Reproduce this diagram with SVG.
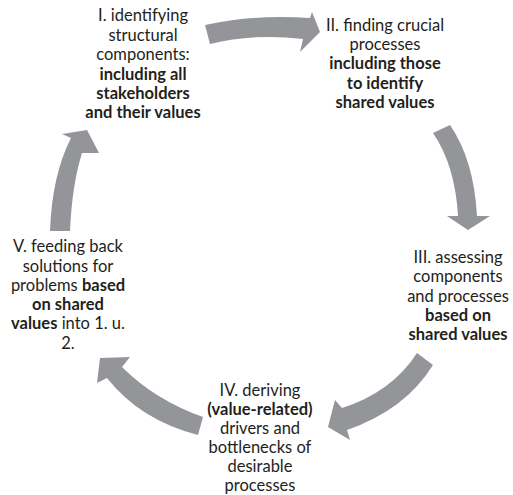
<svg xmlns="http://www.w3.org/2000/svg" width="513" height="495" viewBox="0 0 513 495">
<style>
text{font-family:Lato,"Liberation Sans",sans-serif;font-size:16.5px;fill:#231f20;text-anchor:middle}
.b{font-weight:bold}
.arrow{fill:#939598;stroke:none}
</style>
<rect width="513" height="495" fill="#ffffff"/>
<g id="connectors">
<path class="arrow" d="M205,25 Q255,14 310,18 L312,12 L320,32 L300,52 L303,39 Q255,33 210,44 Z"/>
<path class="arrow" d="M450,125 Q474,160 477,216 L490,216 L468,230 L447,216 L458,216 Q455,165 433,133 Z"/>
<path class="arrow" d="M433,365 Q405,410 347,430 L350,440 L328,427 L335,400 L342,408 Q392,392 417,353 Z"/>
<path class="arrow" d="M198,435 Q140,420 107,378 L97,383 L100,358 L130,357 L122,367 Q155,400 203,417 Z"/>
<path class="arrow" d="M50,231 Q52,175 71,138 L62,134 L87,130 L99,153 L82,153 Q72,185 70,231 Z"/>
</g>
<g id="node1">
<text x="143" y="21">I. identifying</text>
<text x="143" y="41">structural</text>
<text x="143" y="60">components:</text>
<text x="143" y="80" class="b">including all</text>
<text x="143" y="99" class="b">stakeholders</text>
<text x="143" y="118" class="b">and their values</text>
</g>
<g id="node2">
<text x="385" y="31">II. finding crucial</text>
<text x="385" y="50">processes</text>
<text x="385" y="69" class="b">including those</text>
<text x="385" y="89" class="b">to identify</text>
<text x="385" y="108" class="b">shared values</text>
</g>
<g id="node3">
<text x="458" y="263">III. assessing</text>
<text x="458" y="282">components</text>
<text x="458" y="302">and processes</text>
<text x="458" y="321" class="b">based on</text>
<text x="458" y="340" class="b">shared values</text>
</g>
<g id="node4">
<text x="260" y="396">IV. deriving</text>
<text x="260" y="415" class="b">(value-related)</text>
<text x="260" y="434">drivers and</text>
<text x="260" y="453">bottlenecks of</text>
<text x="260" y="472">desirable</text>
<text x="260" y="491">processes</text>
</g>
<g id="node5">
<text x="68" y="252">V. feeding back</text>
<text x="68" y="272">solutions for</text>
<text x="68" y="291">problems <tspan class="b">based</tspan></text>
<text x="68" y="310" class="b">on shared</text>
<text x="68" y="329"><tspan class="b">values</tspan> into 1. u.</text>
<text x="68" y="349">2.</text>
</g>
</svg>
